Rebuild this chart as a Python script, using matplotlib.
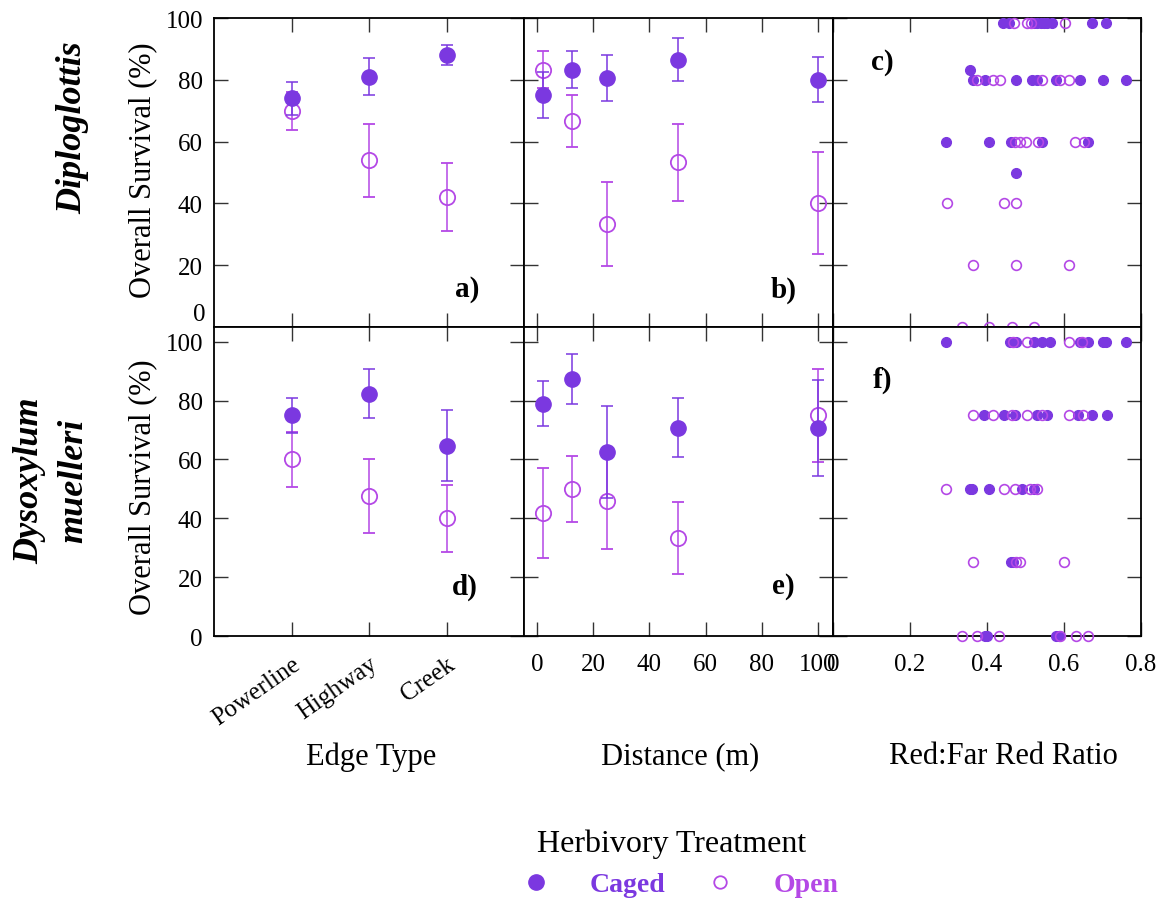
import matplotlib
matplotlib.use('Agg')
import matplotlib.pyplot as plt
from matplotlib.lines import Line2D
import numpy as np

plt.rcParams['font.family'] = ['Liberation Serif', 'DejaVu Serif']

# ---------------- data ----------------
edge_types = ['Powerline', 'Highway', 'Creek']
distances = [2, 12.5, 25, 50, 100]

# Diploglottis
a_caged = [74, 81, 88]
a_caged_se = [5.3, 6.0, 3.3]
a_open = [70, 54, 42]
a_open_se = [6.2, 11.8, 11.0]

b_caged = [75, 83.3, 80.6, 86.5, 80]
b_caged_se = [7.4, 6.1, 7.3, 7.0, 7.3]
b_open = [83.3, 66.7, 33.3, 53.3, 40]
b_open_se = [6.0, 8.3, 13.5, 12.4, 16.5]

c_caged_x = [0.441, 0.458, 0.522, 0.530, 0.539, 0.547, 0.556, 0.569, 0.672, 0.710,
             0.356,
             0.364, 0.394, 0.475, 0.518, 0.529, 0.580, 0.642, 0.700, 0.762,
             0.294, 0.405, 0.462, 0.544, 0.663,
             0.475]
c_caged_y = [98.5] * 10 + [83.3] + [80] * 9 + [60] * 5 + [50]
c_open_x = [0.471, 0.503, 0.514, 0.603,
            0.375, 0.415, 0.435, 0.544, 0.589, 0.612,
            0.473, 0.486, 0.501, 0.532, 0.629, 0.652,
            0.296, 0.444, 0.475,
            0.364, 0.475, 0.612,
            0.334, 0.404, 0.464, 0.522]
c_open_y = [98.5] * 4 + [80] * 6 + [60] * 6 + [40] * 3 + [20] * 3 + [0] * 4

# Dysoxylum muelleri
d_caged = [75, 82.3, 64.7]
d_caged_se = [6.0, 8.3, 12.0]
d_open = [60, 47.5, 40]
d_open_se = [9.2, 12.5, 11.4]

e_caged = [79, 87.3, 62.5, 70.8, 70.8]
e_caged_se = [7.7, 8.6, 15.5, 10.0, 16.3]
e_open = [41.7, 50, 45.8, 33.3, 75]
e_open_se = [15.3, 11.2, 16.3, 12.4, 15.8]

f_caged_x = [0.294, 0.460, 0.475, 0.522, 0.544, 0.563, 0.642, 0.663, 0.700, 0.710, 0.762,
             0.392, 0.444, 0.473, 0.531, 0.555, 0.637, 0.672, 0.712,
             0.356, 0.362, 0.405, 0.492, 0.522,
             0.462, 0.467,
             0.394, 0.401, 0.580, 0.586]
f_caged_y = [100] * 11 + [75] * 8 + [50] * 5 + [25] * 2 + [0] * 4
f_open_x = [0.467, 0.503, 0.612, 0.646,
            0.364, 0.415, 0.464, 0.503, 0.544, 0.612, 0.649,
            0.294, 0.444, 0.473, 0.512, 0.531,
            0.364, 0.475, 0.486, 0.601,
            0.334, 0.375, 0.430, 0.590, 0.631, 0.663]
f_open_y = [100] * 4 + [75] * 7 + [50] * 5 + [25] * 4 + [0] * 6

# ---------------- style ----------------
CAGED = '#7B38E0'
OPEN = '#B448E6'
TICK_FS = 18

fig = plt.figure(figsize=(11.66, 9.04), dpi=100)
W, H = 1166, 904


def ax_at(l, t, r, b):
    return fig.add_axes([l / W, 1 - b / H, (r - l) / W, (b - t) / H])


cols = [(214, 524), (524, 833), (833, 1141)]
rows = [(19, 328), (328, 637)]
axes = [[ax_at(c[0], r[0], c[1], r[1]) for c in cols] for r in rows]


def style(ax):
    ax.tick_params(direction='in', length=10, width=1, color='#333333',
                   top=True, right=True, labelsize=TICK_FS)
    ax.tick_params(axis='y', pad=8)
    ax.tick_params(axis='x', pad=12)
    for s in ax.spines.values():
        s.set_linewidth(1.3)
        s.set_color('black')


def err_panel(ax, x, caged, caged_se, opn, opn_se):
    ax.errorbar(x, opn, yerr=opn_se, fmt='o', ms=11, mfc='none', mec=OPEN,
                mew=1.3, ecolor=OPEN, elinewidth=1.1, capsize=4, capthick=1.1,
                zorder=3)
    ax.errorbar(x, caged, yerr=caged_se, fmt='o', ms=11, mfc=CAGED, mec=CAGED,
                ecolor=CAGED, elinewidth=1.1, capsize=4, capthick=1.1, zorder=4)


def scatter_panel(ax, cx, cy, ox, oy):
    ax.plot(cx, cy, 'o', ms=7, mfc=CAGED, mec=CAGED, ls='none', clip_on=False, zorder=3)
    ax.plot(ox, oy, 'o', ms=7, mfc='none', mec=OPEN, mew=1.2, ls='none', clip_on=False, zorder=4)


cat_x = np.arange(len(edge_types)) + 1

# Top row
err_panel(axes[0][0], cat_x, a_caged, a_caged_se, a_open, a_open_se)
err_panel(axes[0][1], distances, b_caged, b_caged_se, b_open, b_open_se)
scatter_panel(axes[0][2], c_caged_x, c_caged_y, c_open_x, c_open_y)
# Bottom row
err_panel(axes[1][0], cat_x, d_caged, d_caged_se, d_open, d_open_se)
err_panel(axes[1][1], distances, e_caged, e_caged_se, e_open, e_open_se)
scatter_panel(axes[1][2], f_caged_x, f_caged_y, f_open_x, f_open_y)

yt = [0, 20, 40, 60, 80, 100]
for i, row in enumerate(axes):
    for j, ax in enumerate(row):
        style(ax)
        ax.set_ylim(0, 100 if i == 0 else 105)
        ax.set_yticks(yt)
        if j == 0:
            ax.set_xlim(0, 4)
            ax.set_xticks(cat_x)
            ax.set_xticklabels(edge_types)
        elif j == 1:
            ax.set_xlim(-4.6, 105.3)
            ax.set_xticks([0, 20, 40, 60, 80, 100])
            ax.set_xticklabels(['0', '20', '40', '60', '80', '100'])
        else:
            ax.set_xlim(0, 0.8)
            ax.set_xticks([0, 0.2, 0.4, 0.6, 0.8])
            ax.set_xticklabels(['0', '0.2', '0.4', '0.6', '0.8'])
        if i == 0:
            ax.tick_params(labelbottom=False)
        if j != 0:
            ax.tick_params(labelleft=False)
        else:
            if i == 0:
                ax.set_yticklabels(['', '20', '40', '60', '80', '100'])
                ax.annotate('0', xy=(0, 0), xycoords=('axes fraction', 'data'),
                            xytext=(-9, 13), textcoords='offset pixels',
                            ha='right', va='center', fontsize=TICK_FS)
            else:
                ax.set_yticklabels([str(v) for v in yt])

# rotate category labels
for lab in axes[1][0].get_xticklabels():
    lab.set_rotation(35)
    lab.set_ha('right')
    lab.set_rotation_mode('anchor')
    lab.set_va('top')

# panel letters
letters = [[('a)', 0.816, 0.123), ('b)', 0.84, 0.123), ('c)', 0.16, 0.86)],
           [('d)', 0.81, 0.162), ('e)', 0.84, 0.162), ('f)', 0.16, 0.832)]]
for i in range(2):
    for j in range(3):
        t, x, y = letters[i][j]
        axes[i][j].text(x, y, t, transform=axes[i][j].transAxes, fontsize=21,
                        fontweight='bold', ha='center', va='center')

# y labels
for yc in (170, 487):
    fig.text(143 / W, 1 - yc / H, 'Overall Survival (%)', rotation=90,
             ha='center', va='center', fontsize=22)

# row labels
fig.text(73 / W, 1 - 128 / H, 'Diploglottis', rotation=90, ha='center',
         va='center', fontsize=26, fontweight='bold', fontstyle='italic')
fig.text(52 / W, 1 - 481 / H, 'Dysoxylum\nmuelleri', rotation=90, ha='center',
         va='center', fontsize=26, fontweight='bold', fontstyle='italic',
         multialignment='center', linespacing=1.45)

# x labels
fig.text(371 / W, 1 - 757 / H, 'Edge Type', ha='center', va='center', fontsize=22)
fig.text(680 / W, 1 - 757 / H, 'Distance (m)', ha='center', va='center', fontsize=22)
fig.text(1003 / W, 1 - 757 / H, 'Red:Far Red Ratio', ha='center', va='center', fontsize=22)

# legend
handles = [Line2D([], [], marker='o', ls='none', ms=11, mfc=CAGED, mec=CAGED),
           Line2D([], [], marker='o', ls='none', ms=9, mfc='none', mec=OPEN, mew=1.3)]
leg = fig.legend(handles, ['Caged', 'Open'], title='Herbivory Treatment', ncol=2,
                 loc='center', bbox_to_anchor=(672 / W, 1 - 864 / H), frameon=False,
                 prop={'size': 20, 'weight': 'bold'}, title_fontsize=23,
                 handletextpad=0.8, columnspacing=0.9, handlelength=2.2)
leg.get_texts()[0].set_color(CAGED)
leg.get_texts()[1].set_color(OPEN)

fig.savefig('out.png', dpi=100)
